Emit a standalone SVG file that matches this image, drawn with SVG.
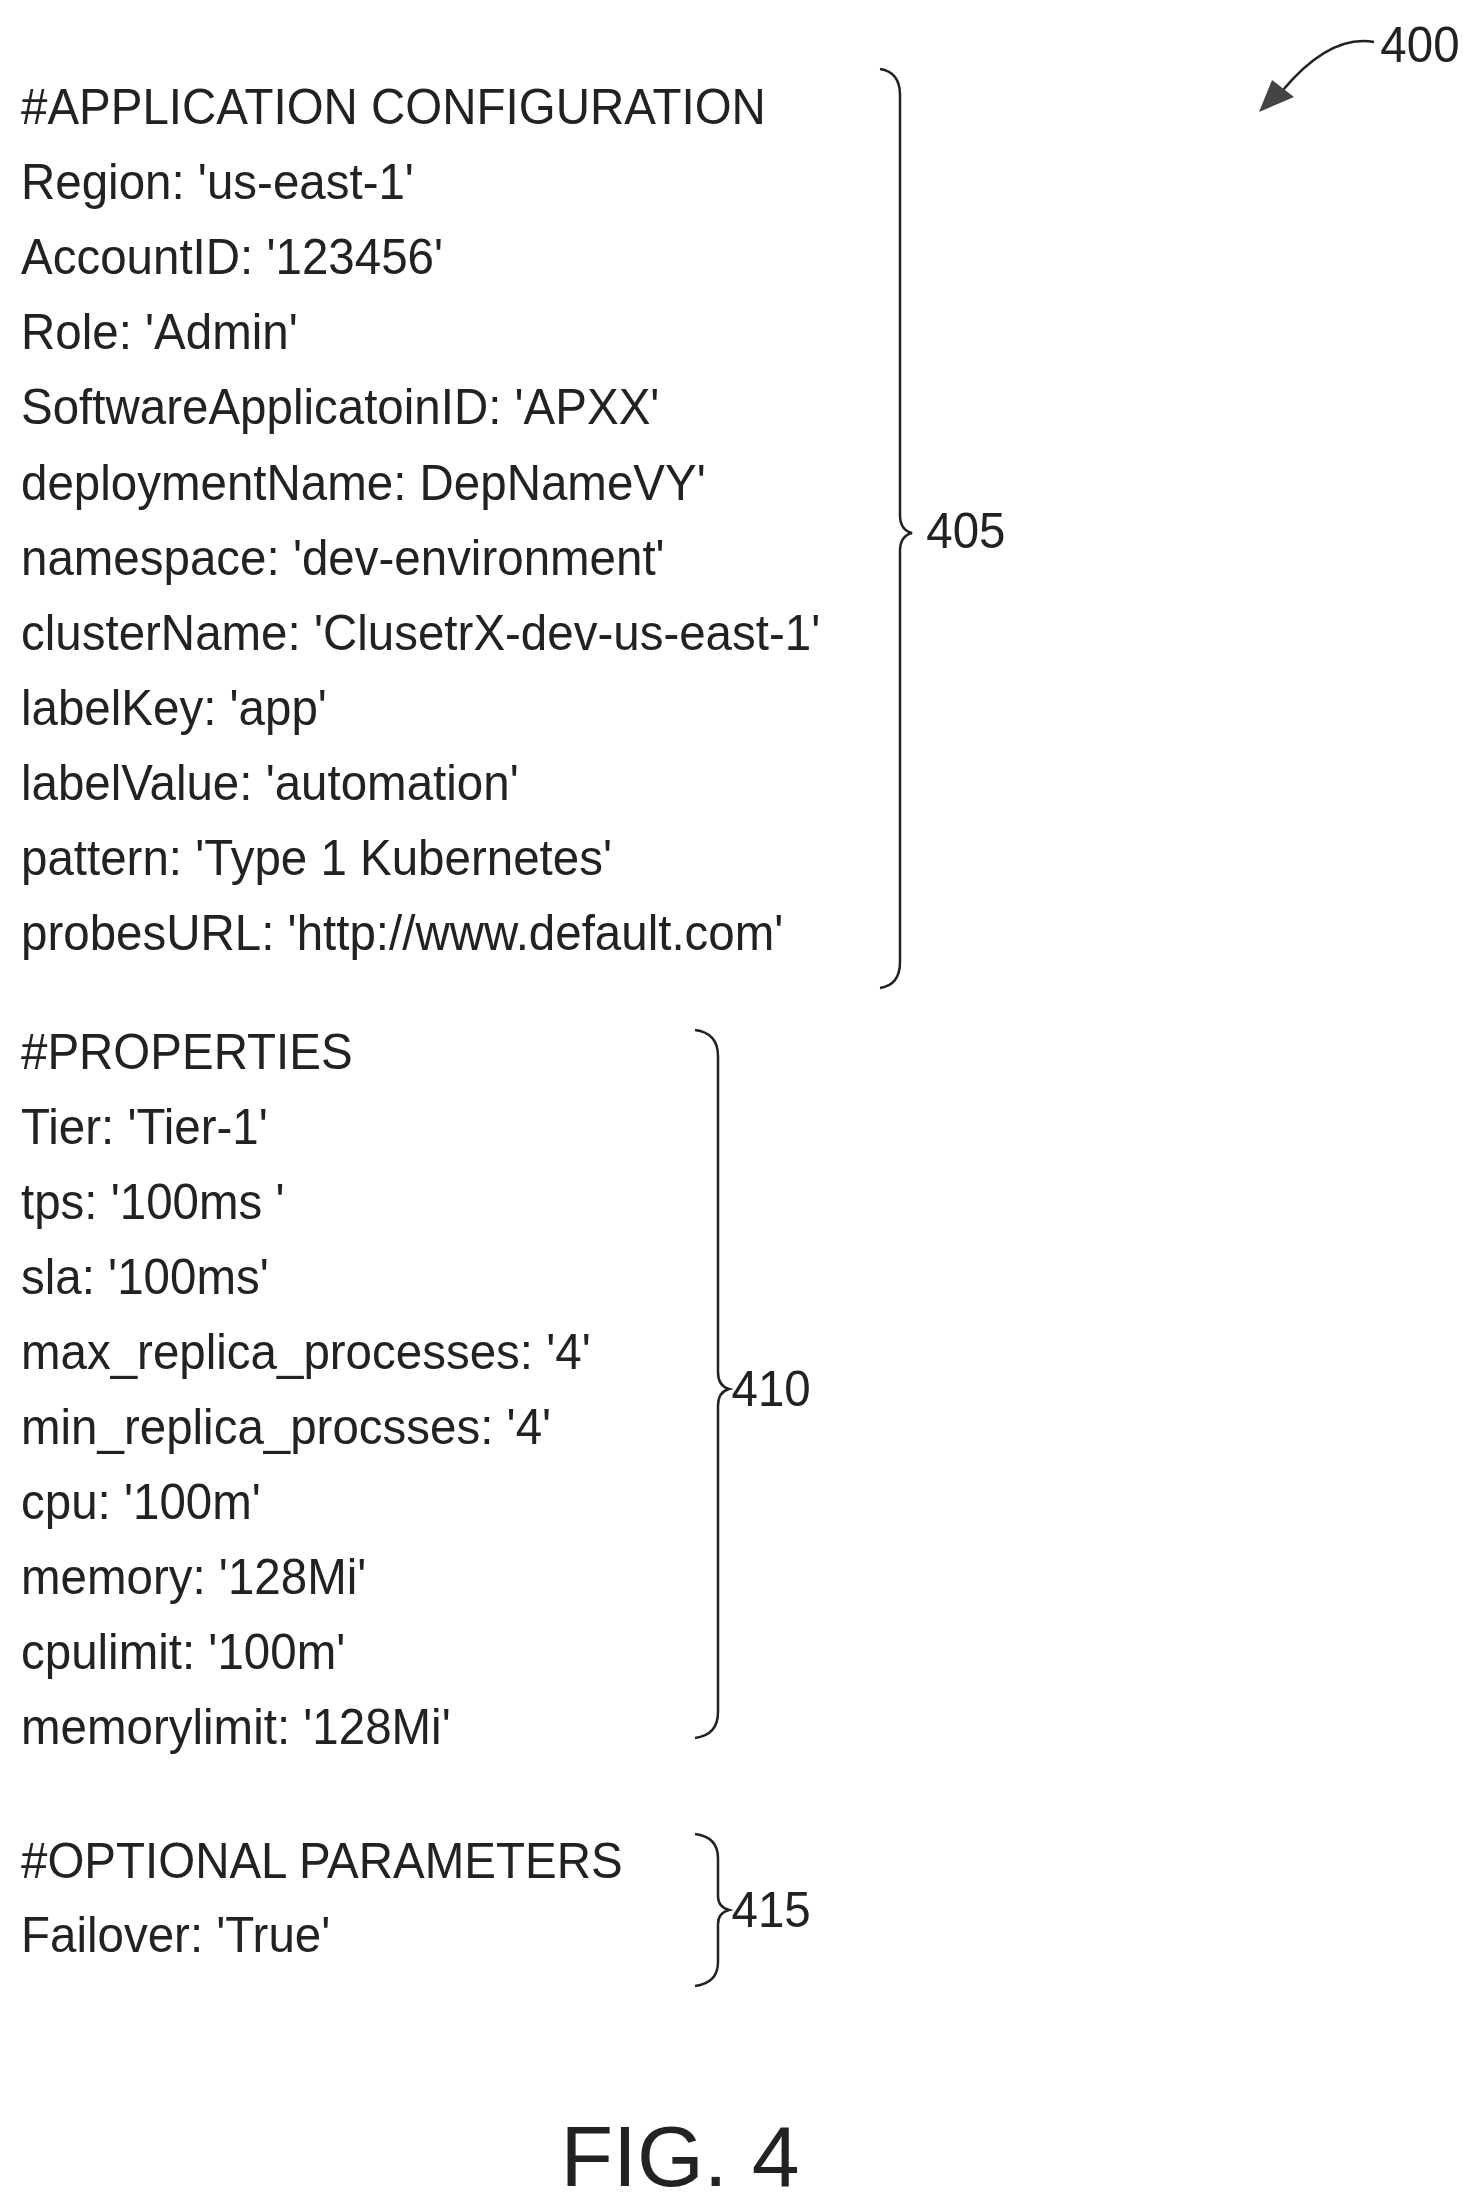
<svg xmlns="http://www.w3.org/2000/svg" width="1481" height="2211" viewBox="0 0 1481 2211">
<style>
.t{font-family:"Liberation Sans",Arial,sans-serif;font-size:50px;fill:#222}
.b{fill:none;stroke:#222;stroke-width:2.5}
</style>
<rect width="1481" height="2211" fill="#fff"/>
<g id="sec405" transform="translate(21,0) scale(0.95,1)">
<text class="t" x="0" y="124">#APPLICATION CONFIGURATION</text>
<text class="t" x="0" y="199">Region: 'us-east-1'</text>
<text class="t" x="0" y="274">AccountID: '123456'</text>
<text class="t" x="0" y="349">Role: 'Admin'</text>
<text class="t" x="0" y="424">SoftwareApplicatoinID: 'APXX'</text>
<text class="t" x="0" y="500">deploymentName: DepNameVY'</text>
<text class="t" x="0" y="575">namespace: 'dev-environment'</text>
<text class="t" x="0" y="650">clusterName: 'ClusetrX-dev-us-east-1'</text>
<text class="t" x="0" y="725">labelKey: 'app'</text>
<text class="t" x="0" y="800">labelValue: 'automation'</text>
<text class="t" x="0" y="875">pattern: 'Type 1 Kubernetes'</text>
<text class="t" x="0" y="950">probesURL: 'http://www.default.com'</text>
</g>
<g id="sec410" transform="translate(21,0) scale(0.95,1)">
<text class="t" x="0" y="1069">#PROPERTIES</text>
<text class="t" x="0" y="1144">Tier: 'Tier-1'</text>
<text class="t" x="0" y="1219">tps: '100ms '</text>
<text class="t" x="0" y="1294">sla: '100ms'</text>
<text class="t" x="0" y="1369">max_replica_processes: '4'</text>
<text class="t" x="0" y="1444">min_replica_procsses: '4'</text>
<text class="t" x="0" y="1519">cpu: '100m'</text>
<text class="t" x="0" y="1594">memory: '128Mi'</text>
<text class="t" x="0" y="1669">cpulimit: '100m'</text>
<text class="t" x="0" y="1744">memorylimit: '128Mi'</text>
</g>
<g id="sec415" transform="translate(21,0) scale(0.95,1)">
<text class="t" x="0" y="1878">#OPTIONAL PARAMETERS</text>
<text class="t" x="0" y="1952">Failover: 'True'</text>
</g>
<g id="braces">
<path class="b" d="M880,69 Q900,72 900,95 L900,515 Q900,530 912,533 Q900,536 900,551 L900,962 Q900,985 880,988"/>
<path class="b" d="M695,1030 Q718,1033 718,1056 L718,1372 Q718,1386 729,1389 Q718,1392 718,1406 L718,1712 Q718,1735 695,1738"/>
<path class="b" d="M695,1834 Q718,1837 718,1858 L718,1896 Q718,1907 729,1910 Q718,1913 718,1924 L718,1962 Q718,1983 695,1986"/>
</g>
<g id="labels" transform="scale(0.95,1)">
<text class="t" x="975" y="548">405</text>
<text class="t" x="770" y="1406">410</text>
<text class="t" x="770" y="1927">415</text>
<text class="t" x="1453" y="62">400</text>
</g>
<g id="connectors">
<path d="M1374,42 C1340,36 1310,58 1283,90" fill="none" stroke="#222" stroke-width="2.5"/>
<path d="M1259,112 L1272,80 L1294,97 Z" fill="#444"/>
</g>
<text x="680" y="2186" text-anchor="middle" style="font-family:'Liberation Sans',Arial,sans-serif;font-size:86px;fill:#222">FIG. 4</text>
</svg>
